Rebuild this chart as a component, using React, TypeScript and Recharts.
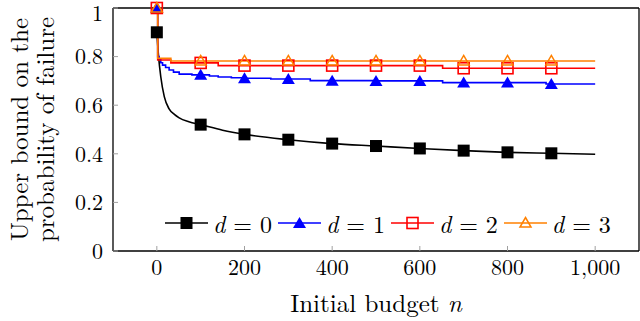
import React from "react";
import { LineChart, Line, XAxis, YAxis, Legend } from "recharts";

const FONT = '"Latin Modern Roman", "DejaVu Serif", "Liberation Serif", serif';

// axis ticks
const xTicks = [0, 200, 400, 600, 800, 1000];
const yTicks = [0, 0.2, 0.4, 0.6, 0.8, 1];
const markerN = [0, 100, 200, 300, 400, 500, 600, 700, 800, 900];

// d = 0
const d0N = [0, 4, 9, 17, 28, 40, 51, 73, 100, 150, 200, 300, 400, 500, 600, 700, 800, 900, 1000];
const d0P = [0.9, 0.8, 0.717, 0.635, 0.585, 0.562, 0.548, 0.532, 0.52, 0.497, 0.48, 0.458, 0.442, 0.432, 0.422, 0.413, 0.406, 0.402, 0.398];

// d = 1
const d1N = [0, 2, 5, 9, 13, 20, 28, 38, 51, 80, 100, 120, 140, 170, 200, 260, 300, 350, 400, 500, 600, 652, 700, 800, 888, 900, 1000];
const d1P = [1, 0.8, 0.79, 0.775, 0.765, 0.755, 0.745, 0.736, 0.728, 0.725, 0.725, 0.72, 0.716, 0.713, 0.711, 0.708, 0.708, 0.701, 0.701, 0.7, 0.7, 0.693, 0.693, 0.693, 0.687, 0.687, 0.687];

// d = 2
const d2N = [0, 2, 32, 100, 140, 200, 300, 400, 500, 600, 652, 700, 800, 900, 1000];
const d2P = [1, 0.786, 0.774, 0.774, 0.763, 0.763, 0.763, 0.763, 0.763, 0.763, 0.752, 0.752, 0.752, 0.752, 0.752];

// d = 3
const d3N = [0, 2, 32, 100, 200, 300, 400, 500, 600, 700, 800, 900, 1000];
const d3P = [1, 0.793, 0.782, 0.782, 0.782, 0.782, 0.782, 0.782, 0.782, 0.782, 0.782, 0.782, 0.782];

const toRows = (ns: number[], ps: number[]) => ns.map((n, i) => ({ n, p: ps[i] }));

type Shape = "square" | "triangle" | "openSquare" | "openTriangle";

const Marker = ({ shape, x, y, color }: { shape: Shape; x: number; y: number; color: string }) => {
  if (shape === "square") return <rect x={x - 6} y={y - 6} width={12} height={12} fill={color} />;
  if (shape === "openSquare")
    return <rect x={x - 5.5} y={y - 5.5} width={11} height={11} fill="none" stroke={color} strokeWidth={1.6} />;
  if (shape === "triangle")
    return <path d={`M${x},${y - 6} L${x + 6.5},${y + 5} L${x - 6.5},${y + 5} Z`} fill={color} />;
  return (
    <path d={`M${x},${y - 5.5} L${x + 5.5},${y + 4} L${x - 5.5},${y + 4} Z`} fill="none" stroke={color} strokeWidth={1.5} />
  );
};

const makeDot = (shape: Shape, color: string) => (props: any) => {
  const { cx, cy, payload, index } = props;
  if (!markerN.includes(payload.n)) return <g key={index} />;
  return (
    <g key={index}>
      <Marker shape={shape} x={cx} y={cy} color={color} />
    </g>
  );
};

const series = [
  { name: "0", rows: toRows(d0N, d0P), color: "#000000", shape: "square" as Shape, type: "monotone" },
  { name: "1", rows: toRows(d1N, d1P), color: "#0000ff", shape: "triangle" as Shape, type: "stepAfter" },
  { name: "2", rows: toRows(d2N, d2P), color: "#ff0000", shape: "openSquare" as Shape, type: "stepAfter" },
  { name: "3", rows: toRows(d3N, d3P), color: "#ff8000", shape: "openTriangle" as Shape, type: "stepAfter" },
];

const renderLegend = () => (
  <div style={{ display: "flex", alignItems: "center", fontFamily: FONT, fontSize: 24, lineHeight: "28px" }}>
    {series.map((s) => (
      <div key={s.name} style={{ display: "flex", alignItems: "center", marginRight: 6 }}>
        <svg width={43} height={16} style={{ display: "block" }}>
          <line x1={0} y1={8} x2={43} y2={8} stroke={s.color} strokeWidth={1.6} />
          <Marker shape={s.shape} x={21.5} y={8} color={s.color} />
        </svg>
        <span style={{ marginLeft: 5, whiteSpace: "nowrap" }}>
          <i>d</i>
          <span style={{ margin: "0 8px" }}>=</span>
          {s.name}
        </span>
      </div>
    ))}
  </div>
);

const YLabel = () => (
  <g fontFamily={FONT} fontSize={25} fill="#000" textAnchor="middle">
    <text x={17} y={129.5} transform="rotate(-90 17 129.5)" dominantBaseline="central">
      Upper bound on the
    </text>
    <text x={43} y={129.5} transform="rotate(-90 43 129.5)" dominantBaseline="central">
      probability of failure
    </text>
  </g>
);

const XLabel = () => (
  <text x={376} y={312} fontFamily={FONT} fontSize={25} fill="#000" textAnchor="middle">
    Initial budget <tspan fontStyle="italic">n</tspan>
  </text>
);

const tickStyle = { fontFamily: FONT, fontSize: 22, fill: "#000" };
const tickLine = { stroke: "#a0a0a0", strokeWidth: 1 };
const axisLine = { stroke: "#000", strokeWidth: 1.3 };

export default function App() {
  return (
    <div style={{ position: "absolute", left: 0, top: 0, width: 640, height: 321, background: "#fff" }}>
      <LineChart width={640} height={321} margin={{ top: 7, right: 0, bottom: 0, left: 0 }}>
        <XAxis
          xAxisId="bottom"
          type="number"
          dataKey="n"
          domain={[-100, 1100]}
          ticks={xTicks}
          height={70}
          tickSize={-5}
          tickMargin={13}
          tick={tickStyle}
          tickLine={tickLine}
          axisLine={axisLine}
          tickFormatter={(v: number) => v.toLocaleString("en-US")}
          label={{ content: () => <XLabel /> }}
        />
        <XAxis
          xAxisId="top"
          orientation="top"
          type="number"
          dataKey="n"
          domain={[-100, 1100]}
          ticks={xTicks}
          height={1}
          tickSize={-5}
          tick={false}
          tickLine={tickLine}
          axisLine={axisLine}
        />
        <YAxis
          yAxisId="left"
          type="number"
          domain={[0, 1]}
          ticks={yTicks}
          width={113}
          tickSize={-5}
          tickMargin={15}
          tick={tickStyle}
          tickLine={tickLine}
          axisLine={axisLine}
          label={{ content: () => <YLabel /> }}
        />
        <YAxis
          yAxisId="right"
          orientation="right"
          type="number"
          domain={[0, 1]}
          ticks={yTicks}
          width={1}
          tickSize={-5}
          tick={false}
          tickLine={tickLine}
          axisLine={axisLine}
        />
        {series.map((s) => (
          <Line
            key={s.name}
            xAxisId="bottom"
            yAxisId="left"
            data={s.rows}
            dataKey="p"
            type={s.type as any}
            stroke={s.color}
            strokeWidth={1.6}
            dot={makeDot(s.shape, s.color)}
            activeDot={false}
            isAnimationActive={false}
            legendType="none"
          />
        ))}
        <Legend
          layout="horizontal"
          verticalAlign="middle"
          align="center"
          content={renderLegend}
          wrapperStyle={{ position: "absolute", left: 165, top: 209, width: 470 }}
        />
      </LineChart>
    </div>
  );
}
